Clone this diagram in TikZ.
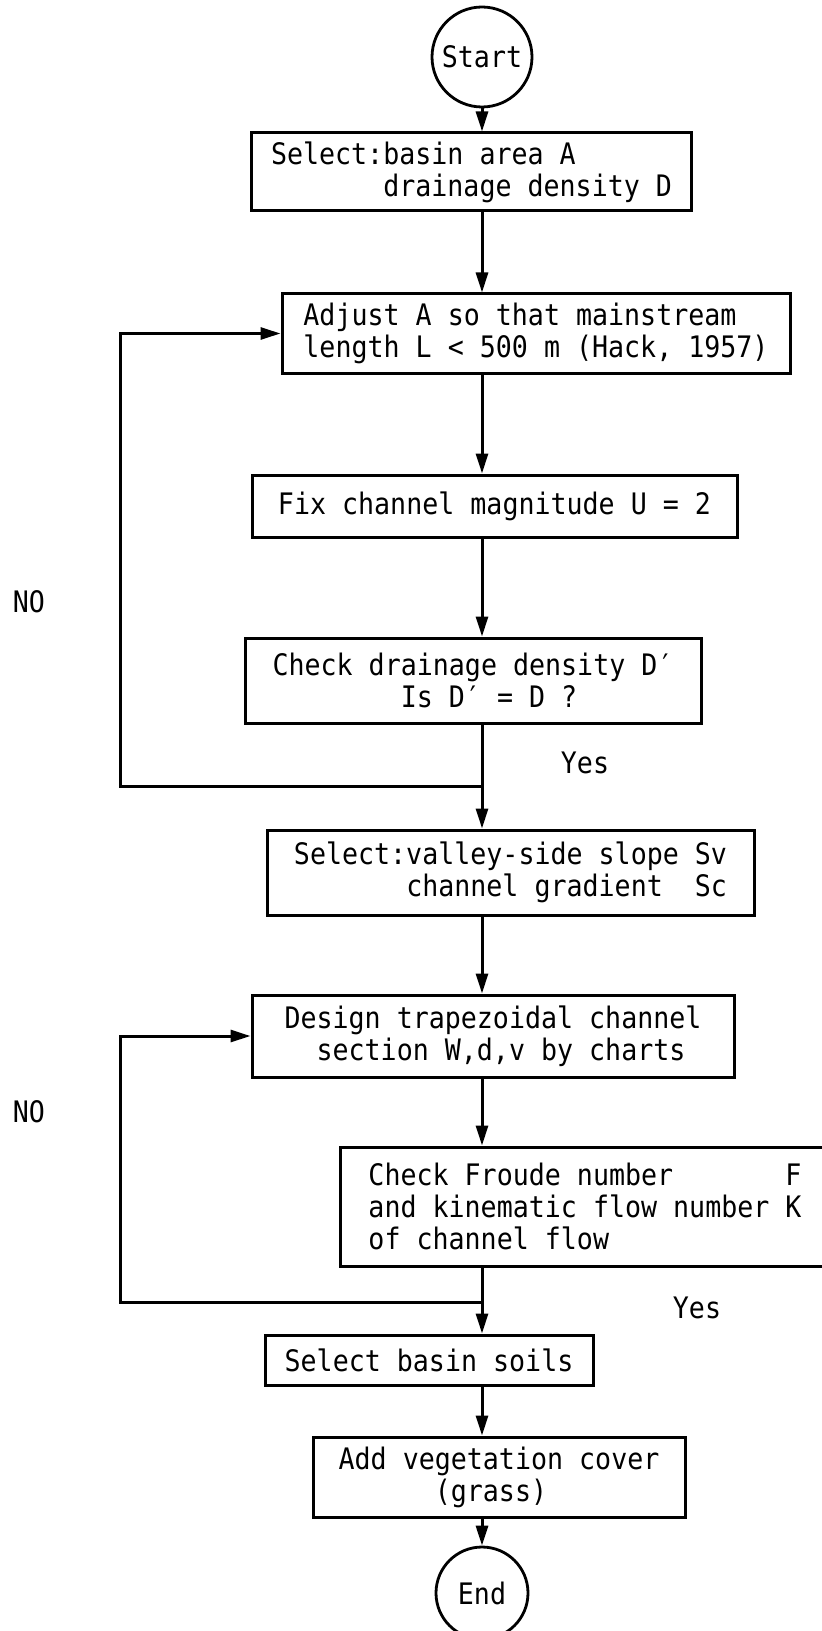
\documentclass[tikz,border=0pt]{standalone}
\usepackage{fontspec}
\newfontfamily\flowfont[FakeStretch=0.9]{DejaVu Sans Mono}
\usepackage{tikz}
\usetikzlibrary{arrows.meta,calc}
\newcommand{\flowtext}{\flowfont\fontsize{14.8pt}{16pt}\selectfont}

\tikzset{
  stepbox/.style={draw,line width=1.5pt,align=left,inner sep=0pt,font=\flowtext},
  termnode/.style={draw,circle,line width=1.4pt,inner sep=0pt,font=\flowtext},
  flow/.style={line width=1.5pt,-{Triangle[length=10pt,width=6pt]}},
  plain/.style={line width=1.5pt},
  answer/.style={font=\flowtext}
}

\begin{document}
\begin{tikzpicture}[x=0.5pt,y=-0.5pt]
  \useasboundingbox (0,0) rectangle (822,1631);
  \clip (0,0) rectangle (822,1631);
  % steps, centres (pixels)
  \node[termnode,minimum size=50pt] (start) at (482,57) {Start};
  \node[stepbox,minimum width=220pt,minimum height=39pt] (basin) at (471.5,172)
    {Select:basin area A\\\null~~~~~~~drainage density D};
  \node[stepbox,minimum width=254pt,minimum height=39.5pt] (adjust) at (536,333.5)
    {Adjust A so that mainstream\\length L < 500 m (Hack, 1957)};
  \node[stepbox,minimum width=242.5pt,minimum height=31pt] (fix) at (494.5,506)
    {Fix channel magnitude U = 2};
  \node[stepbox,minimum width=228pt,minimum height=42.5pt] (check) at (473,680.5)
    {Check drainage density D′\\\null~~~~~~~~Is D′ = D ?};
  \node[stepbox,minimum width=243.5pt,minimum height=42.5pt] (valley) at (510.5,872.5)
    {Select:valley-side slope Sv\\\null~~~~~~~channel gradient~~Sc};
  \node[stepbox,minimum width=241pt,minimum height=41pt] (design) at (493,1036)
    {Design trapezoidal channel\\\null~~section W,d,v by charts};
  \node[stepbox,minimum width=245pt,minimum height=59.5pt] (froude) at (585,1206.5)
    {Check Froude number~~~~~~~F\\and kinematic flow number K\\of channel flow};
  \node[stepbox,minimum width=164pt,minimum height=25pt] (soils) at (429,1360)
    {Select basin soils};
  \node[stepbox,minimum width=186pt,minimum height=40pt] (veg) at (499,1477)
    {Add vegetation cover\\\null~~~~~~(grass)};
  \node[termnode,minimum size=46pt] (end) at (482,1593) {End};

  % main line
  \draw[flow] (start) -- (start |- basin.north);
  \draw[flow] (basin.south -| start) -- (adjust.north -| start);
  \draw[flow] (adjust.south -| start) -- (fix.north -| start);
  \draw[flow] (fix.south -| start) -- (check.north -| start);
  \coordinate (yes1) at (482,786);
  \coordinate (no1) at (120,786);
  \draw[plain] (check.south -| start) -- (yes1);
  \draw[flow] (yes1) -- (valley.north -| start);
  \draw[flow] (yes1) -- (no1) |- (adjust.west);
  \draw[flow] (valley.south -| start) -- (design.north -| start);
  \draw[flow] (design.south -| start) -- (froude.north -| start);
  \coordinate (yes2) at (482,1302);
  \coordinate (no2) at (120,1302);
  \draw[plain] (froude.south -| start) -- (yes2);
  \draw[flow] (yes2) -- (soils.north -| start);
  \draw[flow] (yes2) -- (no2) |- (design.west);
  \draw[flow] (soils.south -| start) -- (veg.north -| start);
  \draw[flow] (veg.south -| start) -- (end);

  \node[answer] (noA) at (29,602) {NO};
  \node[answer] (noB) at (29,1112) {NO};
  \node[answer] (yesA) at (585,763) {Yes};
  \node[answer] (yesB) at (697,1308) {Yes};
\end{tikzpicture}
\end{document}
